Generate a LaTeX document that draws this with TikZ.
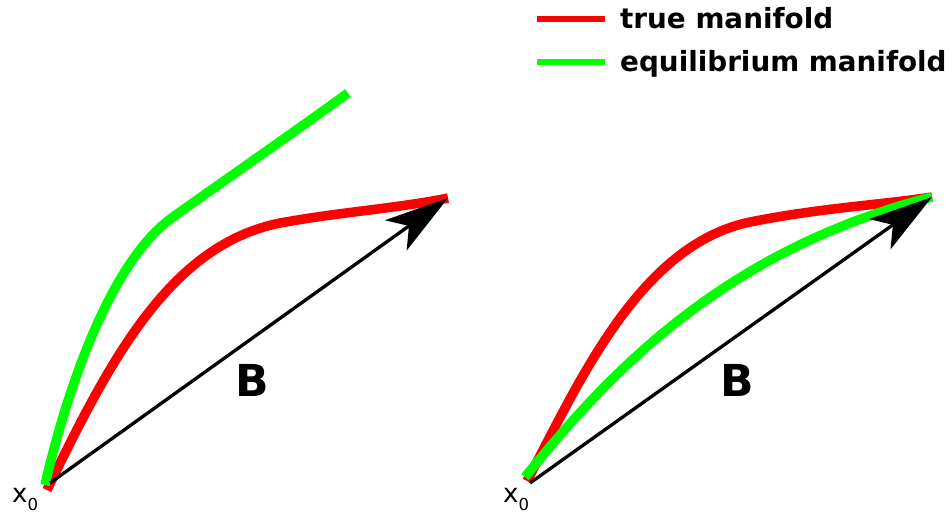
\documentclass[tikz,border=0pt]{standalone}
\usepackage{fontspec}
\setmainfont{DejaVu Sans}
\usetikzlibrary{arrows.meta,positioning}

\definecolor{truered}{RGB}{255,0,0}
\definecolor{eqgreen}{RGB}{0,255,0}

\begin{document}
\begin{tikzpicture}[
    x=1pt, y=-1pt,
    manifold/.style={line width=9.5pt, draw=#1},
    keyline/.style={line width=6pt, draw=#1},
    vec/.style={line width=3.3pt, -{Stealth[length=64pt, width=37pt, inset=16pt]}},
    veclabel/.style={font=\fontsize{44}{48}\selectfont\bfseries, inner sep=0pt},
    startlabel/.style={font=\fontsize{26}{28}\selectfont, inner sep=0pt, anchor=base west},
    keytext/.style={font=\fontsize{27.8}{30}\selectfont\bfseries, inner sep=0pt, anchor=base west}
]
    \useasboundingbox (0,0) rectangle (952,514);

    % Legend
    \coordinate (redA) at (537,19);
    \coordinate (redB) at (605,19);
    \coordinate (greenA) at (537,62);
    \coordinate (greenB) at (605,62);
    \draw[keyline=truered] (redA) -- (redB);
    \draw[keyline=eqgreen] (greenA) -- (greenB);
    \node[keytext] (truekey) at (620,28) {true manifold};
    \node[keytext] (eqkey) at (620,71) {equilibrium manifold};

    % Left panel
    \coordinate (x0L) at (50,483);
    \coordinate (tipL) at (448,198);
    \coordinate (redL) at (47,490);
    \coordinate (greenL) at (45,485);
    \draw[manifold=truered] (redL) .. controls (110,360) and (170,245) .. (280,223)
        .. controls (340,212) and (400,208) .. (tipL);
    \draw[manifold=eqgreen] (greenL) .. controls (62,410) and (105,265) .. (173,217)
        .. controls (215,187) and (290,135) .. (348,93);
    \draw[vec] (x0L) -- (tipL);
    \node[veclabel] (BL) at (252,380) {B};
    \node[startlabel] (startL) at (12,502) {x\raisebox{-8pt}{\fontsize{16.5}{16}\selectfont 0}};

    % Right panel
    \coordinate (x0R) at (530,483);
    \coordinate (tipR) at (932,197);
    \coordinate (redR) at (527,481);
    \coordinate (greenR) at (525,477);
    \draw[manifold=truered] (redR) .. controls (580,380) and (640,245) .. (750,222)
        .. controls (820,208) and (880,205) .. (tipR);
    \draw[manifold=eqgreen] (greenR) .. controls (600,385) and (715,252) .. (tipR);
    \draw[vec] (x0R) -- (tipR);
    \node[veclabel] (BR) at (737,380) {B};
    \node[startlabel] (startR) at (503,502) {x\raisebox{-8pt}{\fontsize{16.5}{16}\selectfont 0}};
\end{tikzpicture}
\end{document}
